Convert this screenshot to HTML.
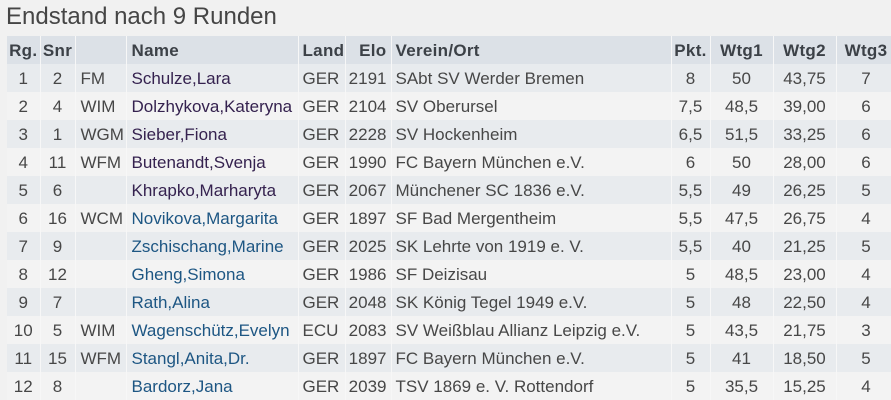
<!DOCTYPE html>
<html>
<head>
<meta charset="utf-8">
<style>
html,body{margin:0;padding:0;}
body{width:891px;height:400px;overflow:hidden;background:#f1f1f1;font-family:"Liberation Sans",Arial,sans-serif;position:relative;}
.title{position:absolute;left:6px;top:3px;font-size:24px;color:#454545;white-space:nowrap;}
table{position:absolute;left:7px;top:36px;border-collapse:collapse;table-layout:fixed;width:889px;}
td,th{height:28px;padding:1px 0 0 0;box-sizing:border-box;font-size:17px;white-space:nowrap;overflow:hidden;border-right:1px solid rgba(255,255,255,0.45);}
th{background:#dce1e7;color:#3c4147;font-weight:bold;font-size:17px;letter-spacing:0.3px;}
td{color:#474747;}
tr.o td{background:#e8ebee;}
tr.e td{background:#f3f3f3;}
.c{text-align:center;}
.l{text-align:left;padding-left:5px;}
.n{text-align:left;padding-left:5px;}
.r{text-align:right;padding-right:4px;}
.g{text-align:left;padding-left:4px;}
.p{color:#35224f !important;}
.b{color:#1d5683 !important;}
</style>
</head>
<body>
<div class="title">Endstand nach 9 Runden</div>
<table>
<colgroup>
<col style="width:33px"><col style="width:35px"><col style="width:51px"><col style="width:172px"><col style="width:47px"><col style="width:46px"><col style="width:280px"><col style="width:39px"><col style="width:63px"><col style="width:63px"><col style="width:60px">
</colgroup>
<tr><th class="c">Rg.</th><th class="c">Snr</th><th></th><th class="n">Name</th><th class="g">Land</th><th class="r">Elo</th><th class="g">Verein/Ort</th><th class="c">Pkt.</th><th class="c">Wtg1</th><th class="c">Wtg2</th><th class="c">Wtg3</th></tr>
<tr class="o"><td class="c">1</td><td class="c">2</td><td class="l">FM</td><td class="n p">Schulze,Lara</td><td class="g">GER</td><td class="r">2191</td><td class="g">SAbt SV Werder Bremen</td><td class="c">8</td><td class="c">50</td><td class="c">43,75</td><td class="c">7</td></tr>
<tr class="e"><td class="c">2</td><td class="c">4</td><td class="l">WIM</td><td class="n p">Dolzhykova,Kateryna</td><td class="g">GER</td><td class="r">2104</td><td class="g">SV Oberursel</td><td class="c">7,5</td><td class="c">48,5</td><td class="c">39,00</td><td class="c">6</td></tr>
<tr class="o"><td class="c">3</td><td class="c">1</td><td class="l">WGM</td><td class="n p">Sieber,Fiona</td><td class="g">GER</td><td class="r">2228</td><td class="g">SV Hockenheim</td><td class="c">6,5</td><td class="c">51,5</td><td class="c">33,25</td><td class="c">6</td></tr>
<tr class="e"><td class="c">4</td><td class="c">11</td><td class="l">WFM</td><td class="n p">Butenandt,Svenja</td><td class="g">GER</td><td class="r">1990</td><td class="g">FC Bayern München e.V.</td><td class="c">6</td><td class="c">50</td><td class="c">28,00</td><td class="c">6</td></tr>
<tr class="o"><td class="c">5</td><td class="c">6</td><td class="l"></td><td class="n p">Khrapko,Marharyta</td><td class="g">GER</td><td class="r">2067</td><td class="g">Münchener SC 1836 e.V.</td><td class="c">5,5</td><td class="c">49</td><td class="c">26,25</td><td class="c">5</td></tr>
<tr class="e"><td class="c">6</td><td class="c">16</td><td class="l">WCM</td><td class="n b">Novikova,Margarita</td><td class="g">GER</td><td class="r">1897</td><td class="g">SF Bad Mergentheim</td><td class="c">5,5</td><td class="c">47,5</td><td class="c">26,75</td><td class="c">4</td></tr>
<tr class="o"><td class="c">7</td><td class="c">9</td><td class="l"></td><td class="n b">Zschischang,Marine</td><td class="g">GER</td><td class="r">2025</td><td class="g">SK Lehrte von 1919 e. V.</td><td class="c">5,5</td><td class="c">40</td><td class="c">21,25</td><td class="c">5</td></tr>
<tr class="e"><td class="c">8</td><td class="c">12</td><td class="l"></td><td class="n b">Gheng,Simona</td><td class="g">GER</td><td class="r">1986</td><td class="g">SF Deizisau</td><td class="c">5</td><td class="c">48,5</td><td class="c">23,00</td><td class="c">4</td></tr>
<tr class="o"><td class="c">9</td><td class="c">7</td><td class="l"></td><td class="n b">Rath,Alina</td><td class="g">GER</td><td class="r">2048</td><td class="g">SK König Tegel 1949 e.V.</td><td class="c">5</td><td class="c">48</td><td class="c">22,50</td><td class="c">4</td></tr>
<tr class="e"><td class="c">10</td><td class="c">5</td><td class="l">WIM</td><td class="n b">Wagenschütz,Evelyn</td><td class="g">ECU</td><td class="r">2083</td><td class="g">SV Weißblau Allianz Leipzig e.V.</td><td class="c">5</td><td class="c">43,5</td><td class="c">21,75</td><td class="c">3</td></tr>
<tr class="o"><td class="c">11</td><td class="c">15</td><td class="l">WFM</td><td class="n b">Stangl,Anita,Dr.</td><td class="g">GER</td><td class="r">1897</td><td class="g">FC Bayern München e.V.</td><td class="c">5</td><td class="c">41</td><td class="c">18,50</td><td class="c">5</td></tr>
<tr class="e"><td class="c">12</td><td class="c">8</td><td class="l"></td><td class="n b">Bardorz,Jana</td><td class="g">GER</td><td class="r">2039</td><td class="g">TSV 1869 e. V. Rottendorf</td><td class="c">5</td><td class="c">35,5</td><td class="c">15,25</td><td class="c">4</td></tr>
</table>
</body>
</html>
